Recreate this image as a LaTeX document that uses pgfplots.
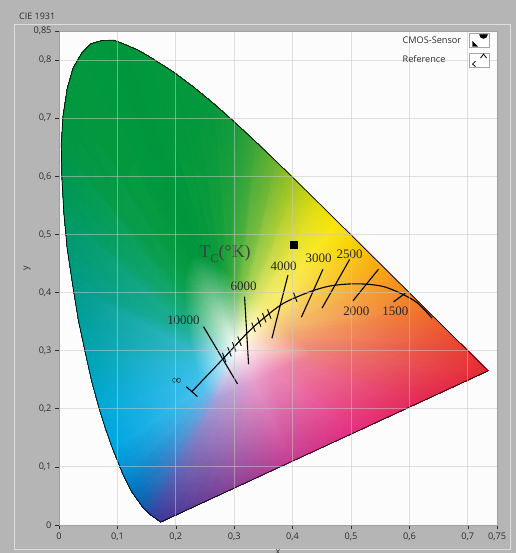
\documentclass[border=0pt]{standalone}
\usepackage{pgfplots}
\pgfplotsset{compat=1.18}
\usepackage{fontspec}
\setmainfont{Open Sans}
\newfontfamily\serifnum{Liberation Serif}
\definecolor{bgc}{RGB}{181,181,181}
\definecolor{panelc}{RGB}{222,222,222}
\definecolor{plotbg}{RGB}{252,252,252}
\definecolor{gridc}{RGB}{200,200,200}
\definecolor{axc}{RGB}{160,160,160}
\definecolor{tickc}{RGB}{45,45,45}
\definecolor{wc}{RGB}{255,255,250}
\definecolor{b1}{RGB}{60,55,150}   \definecolor{r1}{RGB}{160,160,218}
\definecolor{b2}{RGB}{45,70,160}   \definecolor{r2}{RGB}{135,170,228}
\definecolor{b3}{RGB}{20,90,172}   \definecolor{r3}{RGB}{115,180,232}
\definecolor{b4}{RGB}{0,115,190}   \definecolor{r4}{RGB}{95,190,236}
\definecolor{b5}{RGB}{0,140,210}   \definecolor{r5}{RGB}{80,195,238}
\definecolor{b6}{RGB}{0,165,225}   \definecolor{r6}{RGB}{65,192,235}
\definecolor{b7}{RGB}{0,168,215}   \definecolor{r7}{RGB}{55,190,225}
\definecolor{b8}{RGB}{0,162,175}   \definecolor{r8}{RGB}{50,185,200}
\definecolor{b9}{RGB}{0,155,135}   \definecolor{r9}{RGB}{30,175,150}
\definecolor{b10}{RGB}{0,152,95}   \definecolor{r10}{RGB}{20,168,110}
\definecolor{b11}{RGB}{0,150,66}   \definecolor{r11}{RGB}{10,160,80}
\definecolor{b12}{RGB}{0,150,60}   \definecolor{r12}{RGB}{5,155,65}
\definecolor{b13}{RGB}{0,150,60}   \definecolor{r13}{RGB}{0,152,62}
\definecolor{b14}{RGB}{0,150,60}   \definecolor{r14}{RGB}{0,151,60}
\definecolor{b15}{RGB}{0,150,60}   \definecolor{r15}{RGB}{0,152,60}
\definecolor{b16}{RGB}{0,150,60}   \definecolor{r16}{RGB}{5,154,60}
\definecolor{b17}{RGB}{0,150,60}   \definecolor{r17}{RGB}{10,156,60}
\definecolor{b18}{RGB}{0,151,60}   \definecolor{r18}{RGB}{25,160,60}
\definecolor{b19}{RGB}{5,152,60}   \definecolor{r19}{RGB}{45,166,60}
\definecolor{b20}{RGB}{20,155,60}  \definecolor{r20}{RGB}{80,178,62}
\definecolor{b21}{RGB}{60,165,55}  \definecolor{r21}{RGB}{125,194,72}
\definecolor{b22}{RGB}{110,180,45} \definecolor{r22}{RGB}{172,212,90}
\definecolor{b23}{RGB}{170,200,25} \definecolor{r23}{RGB}{212,226,105}
\definecolor{b24}{RGB}{225,220,10} \definecolor{r24}{RGB}{238,234,120}
\definecolor{b25}{RGB}{250,230,0}  \definecolor{r25}{RGB}{248,236,125}
\definecolor{b26}{RGB}{250,205,0}  \definecolor{r26}{RGB}{248,224,125}
\definecolor{b27}{RGB}{248,175,10} \definecolor{r27}{RGB}{246,208,125}
\definecolor{b28}{RGB}{245,150,25} \definecolor{r28}{RGB}{245,192,122}
\definecolor{b29}{RGB}{240,115,40} \definecolor{r29}{RGB}{243,165,115}
\definecolor{b30}{RGB}{233,65,50}  \definecolor{r30}{RGB}{240,140,120}
\definecolor{b31}{RGB}{228,42,50}  \definecolor{r31}{RGB}{238,130,130}
\definecolor{b32}{RGB}{228,40,85}  \definecolor{r32}{RGB}{238,130,160}
\definecolor{b33}{RGB}{228,45,125} \definecolor{r33}{RGB}{236,140,185}
\definecolor{b34}{RGB}{200,60,145} \definecolor{r34}{RGB}{230,158,205}
\definecolor{b35}{RGB}{130,65,150} \definecolor{r35}{RGB}{195,160,212}
\begin{document}
\begin{tikzpicture}[x=1bp,y=1bp]
\useasboundingbox (0,0) rectangle (516,553);
\fill[bgc] (0,0) rectangle (516,553);
\draw[panelc, line width=1bp] (14.5,3.5) rectangle (510.5,528.5);
\node[anchor=west, inner sep=0, font=\fontsize{9}{10}\selectfont, text=tickc] at (19,537) {CIE 1931};
\begin{axis}[
  at={(59bp,28bp)}, anchor=south west,
  scale only axis, width=438bp, height=494bp,
  xmin=0, xmax=0.75, ymin=0, ymax=0.85,
  xtick={0,0.1,0.2,0.3,0.4,0.5,0.6,0.7,0.75},
  ytick={0,0.1,0.2,0.3,0.4,0.5,0.6,0.7,0.8,0.85},
  grid=major,
  grid style={draw=gridc, line width=0.8bp, opacity=0.55},
  axis on top,
  axis background/.style={fill=plotbg},
  axis line style={draw=axc, line width=0.8bp},
  tick pos=left, tick align=outside, major tick length=4bp,
  tick style={draw=tickc, line width=0.6bp},
  tick label style={font=\fontsize{9.2}{10}\selectfont, text=tickc},
  /pgf/number format/use comma,
  /pgf/number format/fixed,
  /pgf/number format/precision=2,
  /pgf/number format/assume math mode=true,
  xlabel={x}, ylabel={y},
  every axis x label/.style={at={(rel axis cs:0.5,-0.060)}, anchor=base, font=\fontsize{9}{10}\selectfont, text=tickc},
  every axis y label/.style={at={(rel axis cs:-0.0731,0.52)}, anchor=center, rotate=90, font=\fontsize{9}{10}\selectfont, text=tickc},
  legend plot pos=right,
  legend cell align=left,
  legend style={at={(rel axis cs:1,1)}, anchor=north east, xshift=-7bp, yshift=-2bp,
    draw=none, fill=none, inner xsep=0pt, inner ysep=0pt,
    font=\fontsize{9.2}{10}\selectfont, text=tickc, row sep=5bp, column sep=6bp},
]
% colour fill of the chromaticity diagram
\addplot[patch, shader=interp, mesh/color input=explicit, point meta=explicit symbolic, forget plot]
table[meta=c] {
x y c
0.305 0.305 color=wc
0.2657 0.2150 color=r1
0.2605 0.2188 color=r2
0.2657 0.2150 color=r1
0.1741 0.0050 color=b1
0.1566 0.0177 color=b2
0.2657 0.2150 color=r1
0.1566 0.0177 color=b2
0.2605 0.2188 color=r2
0.305 0.305 color=wc
0.2605 0.2188 color=r2
0.2567 0.2224 color=r3
0.2605 0.2188 color=r2
0.1566 0.0177 color=b2
0.1440 0.0297 color=b3
0.2605 0.2188 color=r2
0.1440 0.0297 color=b3
0.2567 0.2224 color=r3
0.305 0.305 color=wc
0.2567 0.2224 color=r3
0.2507 0.2308 color=r4
0.2567 0.2224 color=r3
0.1440 0.0297 color=b3
0.1241 0.0578 color=b4
0.2567 0.2224 color=r3
0.1241 0.0578 color=b4
0.2507 0.2308 color=r4
0.305 0.305 color=wc
0.2507 0.2308 color=r4
0.2464 0.2395 color=r5
0.2507 0.2308 color=r4
0.1241 0.0578 color=b4
0.1096 0.0868 color=b5
0.2507 0.2308 color=r4
0.1096 0.0868 color=b5
0.2464 0.2395 color=r5
0.305 0.305 color=wc
0.2464 0.2395 color=r5
0.2409 0.2533 color=r6
0.2464 0.2395 color=r5
0.1096 0.0868 color=b5
0.0913 0.1327 color=b6
0.2464 0.2395 color=r5
0.0913 0.1327 color=b6
0.2409 0.2533 color=r6
0.305 0.305 color=wc
0.2409 0.2533 color=r6
0.2341 0.2737 color=r7
0.2409 0.2533 color=r6
0.0913 0.1327 color=b6
0.0687 0.2007 color=b7
0.2409 0.2533 color=r6
0.0687 0.2007 color=b7
0.2341 0.2737 color=r7
0.305 0.305 color=wc
0.2341 0.2737 color=r7
0.2271 0.3020 color=r8
0.2341 0.2737 color=r7
0.0687 0.2007 color=b7
0.0454 0.2950 color=b8
0.2341 0.2737 color=r7
0.0454 0.2950 color=b8
0.2271 0.3020 color=r8
0.305 0.305 color=wc
0.2271 0.3020 color=r8
0.2206 0.3373 color=r9
0.2271 0.3020 color=r8
0.0454 0.2950 color=b8
0.0235 0.4127 color=b9
0.2271 0.3020 color=r8
0.0235 0.4127 color=b9
0.2206 0.3373 color=r9
0.305 0.305 color=wc
0.2206 0.3373 color=r9
0.2160 0.3750 color=r10
0.2206 0.3373 color=r9
0.0235 0.4127 color=b9
0.0082 0.5384 color=b10
0.2206 0.3373 color=r9
0.0082 0.5384 color=b10
0.2160 0.3750 color=r10
0.305 0.305 color=wc
0.2160 0.3750 color=r10
0.2147 0.4099 color=r11
0.2160 0.3750 color=r10
0.0082 0.5384 color=b10
0.0039 0.6548 color=b11
0.2160 0.3750 color=r10
0.0039 0.6548 color=b11
0.2147 0.4099 color=r11
0.305 0.305 color=wc
0.2147 0.4099 color=r11
0.2177 0.4386 color=r12
0.2147 0.4099 color=r11
0.0039 0.6548 color=b11
0.0139 0.7502 color=b12
0.2147 0.4099 color=r11
0.0139 0.7502 color=b12
0.2177 0.4386 color=r12
0.305 0.305 color=wc
0.2177 0.4386 color=r12
0.2252 0.4571 color=r13
0.2177 0.4386 color=r12
0.0139 0.7502 color=b12
0.0389 0.8120 color=b13
0.2177 0.4386 color=r12
0.0389 0.8120 color=b13
0.2252 0.4571 color=r13
0.305 0.305 color=wc
0.2252 0.4571 color=r13
0.2358 0.4636 color=r14
0.2252 0.4571 color=r13
0.0389 0.8120 color=b13
0.0743 0.8338 color=b14
0.2252 0.4571 color=r13
0.0743 0.8338 color=b14
0.2358 0.4636 color=r14
0.305 0.305 color=wc
0.2358 0.4636 color=r14
0.2478 0.4614 color=r15
0.2358 0.4636 color=r14
0.0743 0.8338 color=b14
0.1142 0.8262 color=b15
0.2358 0.4636 color=r14
0.1142 0.8262 color=b15
0.2478 0.4614 color=r15
0.305 0.305 color=wc
0.2478 0.4614 color=r15
0.2599 0.4553 color=r16
0.2478 0.4614 color=r15
0.1142 0.8262 color=b15
0.1547 0.8059 color=b16
0.2478 0.4614 color=r15
0.1547 0.8059 color=b16
0.2599 0.4553 color=r16
0.305 0.305 color=wc
0.2599 0.4553 color=r16
0.2714 0.4480 color=r17
0.2599 0.4553 color=r16
0.1547 0.8059 color=b16
0.1929 0.7816 color=b17
0.2599 0.4553 color=r16
0.1929 0.7816 color=b17
0.2714 0.4480 color=r17
0.305 0.305 color=wc
0.2714 0.4480 color=r17
0.2824 0.4398 color=r18
0.2714 0.4480 color=r17
0.1929 0.7816 color=b17
0.2296 0.7543 color=b18
0.2714 0.4480 color=r17
0.2296 0.7543 color=b18
0.2824 0.4398 color=r18
0.305 0.305 color=wc
0.2824 0.4398 color=r18
0.2932 0.4308 color=r19
0.2824 0.4398 color=r18
0.2296 0.7543 color=b18
0.2658 0.7243 color=b19
0.2824 0.4398 color=r18
0.2658 0.7243 color=b19
0.2932 0.4308 color=r19
0.305 0.305 color=wc
0.2932 0.4308 color=r19
0.3040 0.4212 color=r20
0.2932 0.4308 color=r19
0.2658 0.7243 color=b19
0.3016 0.6923 color=b20
0.2932 0.4308 color=r19
0.3016 0.6923 color=b20
0.3040 0.4212 color=r20
0.305 0.305 color=wc
0.3040 0.4212 color=r20
0.3147 0.4112 color=r21
0.3040 0.4212 color=r20
0.3016 0.6923 color=b20
0.3373 0.6589 color=b21
0.3040 0.4212 color=r20
0.3373 0.6589 color=b21
0.3147 0.4112 color=r21
0.305 0.305 color=wc
0.3147 0.4112 color=r21
0.3254 0.4009 color=r22
0.3147 0.4112 color=r21
0.3373 0.6589 color=b21
0.3731 0.6245 color=b22
0.3147 0.4112 color=r21
0.3731 0.6245 color=b22
0.3254 0.4009 color=r22
0.305 0.305 color=wc
0.3254 0.4009 color=r22
0.3361 0.3904 color=r23
0.3254 0.4009 color=r22
0.3731 0.6245 color=b22
0.4087 0.5896 color=b23
0.3254 0.4009 color=r22
0.4087 0.5896 color=b23
0.3361 0.3904 color=r23
0.305 0.305 color=wc
0.3361 0.3904 color=r23
0.3467 0.3799 color=r24
0.3361 0.3904 color=r23
0.4087 0.5896 color=b23
0.4441 0.5547 color=b24
0.3361 0.3904 color=r23
0.4441 0.5547 color=b24
0.3467 0.3799 color=r24
0.305 0.305 color=wc
0.3467 0.3799 color=r24
0.3571 0.3696 color=r25
0.3467 0.3799 color=r24
0.4441 0.5547 color=b24
0.4788 0.5202 color=b25
0.3467 0.3799 color=r24
0.4788 0.5202 color=b25
0.3571 0.3696 color=r25
0.305 0.305 color=wc
0.3571 0.3696 color=r25
0.3673 0.3595 color=r26
0.3571 0.3696 color=r25
0.4788 0.5202 color=b25
0.5125 0.4866 color=b26
0.3571 0.3696 color=r25
0.5125 0.4866 color=b26
0.3673 0.3595 color=r26
0.305 0.305 color=wc
0.3673 0.3595 color=r26
0.3769 0.3498 color=r27
0.3673 0.3595 color=r26
0.5125 0.4866 color=b26
0.5448 0.4544 color=b27
0.3673 0.3595 color=r26
0.5448 0.4544 color=b27
0.3769 0.3498 color=r27
0.305 0.305 color=wc
0.3769 0.3498 color=r27
0.3861 0.3408 color=r28
0.3769 0.3498 color=r27
0.5448 0.4544 color=b27
0.5752 0.4242 color=b28
0.3769 0.3498 color=r27
0.5752 0.4242 color=b28
0.3861 0.3408 color=r28
0.305 0.305 color=wc
0.3861 0.3408 color=r28
0.4016 0.3253 color=r29
0.3861 0.3408 color=r28
0.5752 0.4242 color=b28
0.6270 0.3725 color=b29
0.3861 0.3408 color=r28
0.6270 0.3725 color=b29
0.4016 0.3253 color=r29
0.305 0.305 color=wc
0.4016 0.3253 color=r29
0.4210 0.3060 color=r30
0.4016 0.3253 color=r29
0.6270 0.3725 color=b29
0.6915 0.3083 color=b30
0.4016 0.3253 color=r29
0.6915 0.3083 color=b30
0.4210 0.3060 color=r30
0.305 0.305 color=wc
0.4210 0.3060 color=r30
0.4339 0.2931 color=r31
0.4210 0.3060 color=r30
0.6915 0.3083 color=b30
0.7347 0.2653 color=b31
0.4210 0.3060 color=r30
0.7347 0.2653 color=b31
0.4339 0.2931 color=r31
0.305 0.305 color=wc
0.4339 0.2931 color=r31
0.4003 0.2775 color=r32
0.4339 0.2931 color=r31
0.7347 0.2653 color=b31
0.6226 0.2133 color=b32
0.4339 0.2931 color=r31
0.6226 0.2133 color=b32
0.4003 0.2775 color=r32
0.305 0.305 color=wc
0.4003 0.2775 color=r32
0.3666 0.2619 color=r33
0.4003 0.2775 color=r32
0.6226 0.2133 color=b32
0.5104 0.1612 color=b33
0.4003 0.2775 color=r32
0.5104 0.1612 color=b33
0.3666 0.2619 color=r33
0.305 0.305 color=wc
0.3666 0.2619 color=r33
0.3330 0.2463 color=r34
0.3666 0.2619 color=r33
0.5104 0.1612 color=b33
0.3982 0.1092 color=b34
0.3666 0.2619 color=r33
0.3982 0.1092 color=b34
0.3330 0.2463 color=r34
0.305 0.305 color=wc
0.3330 0.2463 color=r34
0.2994 0.2306 color=r35
0.3330 0.2463 color=r34
0.3982 0.1092 color=b34
0.2862 0.0571 color=b35
0.3330 0.2463 color=r34
0.2862 0.0571 color=b35
0.2994 0.2306 color=r35
0.305 0.305 color=wc
0.2994 0.2306 color=r35
0.2657 0.2150 color=r1
0.2994 0.2306 color=r35
0.2862 0.0571 color=b35
0.1741 0.0050 color=b1
0.2994 0.2306 color=r35
0.1741 0.0050 color=b1
0.2657 0.2150 color=r1
0.0913 0.1327 color=b6
0.0795 0.1660 color=b6
0.0687 0.2007 color=b7
0.0687 0.2007 color=b7
0.0560 0.2470 color=b7
0.0454 0.2950 color=b8
0.0454 0.2950 color=b8
0.0330 0.3530 color=b8
0.0235 0.4127 color=b9
0.0235 0.4127 color=b9
0.0140 0.4760 color=b9
0.0082 0.5384 color=b10
0.0082 0.5384 color=b10
0.0050 0.5966 color=b10
0.0039 0.6548 color=b11
0.0039 0.6548 color=b11
0.0069 0.7040 color=b11
0.0139 0.7502 color=b12
0.0139 0.7502 color=b12
0.0240 0.7860 color=b12
0.0389 0.8120 color=b13
0.0389 0.8120 color=b13
0.0545 0.8280 color=b13
0.0743 0.8338 color=b14
0.0743 0.8338 color=b14
0.0945 0.8340 color=b14
0.1142 0.8262 color=b15
0.1142 0.8262 color=b15
0.1345 0.8175 color=b15
0.1547 0.8059 color=b16
};
% outline of spectral locus and purple line
\addplot[black, line width=0.7bp, forget plot] coordinates {
(0.1741,0.0050) (0.1566,0.0177) (0.1440,0.0297) (0.1241,0.0578) (0.1096,0.0868)
(0.0913,0.1327) (0.0795,0.1660) (0.0687,0.2007) (0.0560,0.2470) (0.0454,0.2950)
(0.0330,0.3530) (0.0235,0.4127) (0.0140,0.4760) (0.0082,0.5384) (0.0050,0.5966)
(0.0039,0.6548) (0.0069,0.7040) (0.0139,0.7502) (0.0240,0.7860) (0.0389,0.8120)
(0.0545,0.8280) (0.0743,0.8338) (0.0945,0.8340) (0.1142,0.8262) (0.1345,0.8175)
(0.1547,0.8059) (0.1929,0.7816) (0.2296,0.7543) (0.2658,0.7243) (0.3016,0.6923)
(0.3373,0.6589) (0.3731,0.6245) (0.4087,0.5896) (0.4441,0.5547) (0.4788,0.5202)
(0.5125,0.4866) (0.5448,0.4544) (0.5752,0.4242) (0.6270,0.3725) (0.6915,0.3083)
(0.7347,0.2653) (0.6226,0.2133) (0.5104,0.1612) (0.3982,0.1092) (0.2862,0.0571)
(0.1741,0.0050)
};
% Planckian locus
\addplot[black, line width=1.1bp, smooth, forget plot] coordinates {
(0.2275,0.2295) (0.2817,0.2869) (0.3218,0.3299) (0.3503,0.3557) (0.3846,0.3816)
(0.4303,0.4016) (0.4646,0.4114) (0.4989,0.4148) (0.5275,0.4143) (0.5560,0.4102)
(0.5846,0.3988) (0.6132,0.3826) (0.6389,0.3557)
};
% isotherms
\addplot[black, line width=1.1bp, unbounded coords=jump, forget plot] coordinates {
(0.2474,0.3413) (0.3057,0.2427) (nan,nan)
(0.3177,0.3930) (0.3246,0.2766) (nan,nan)
(0.3920,0.4300) (0.3646,0.3213) (nan,nan)
(0.4520,0.4400) (0.4150,0.3575) (nan,nan)
(0.4977,0.4570) (0.4503,0.3730) (nan,nan)
(0.5470,0.4400) (0.5035,0.3860) (nan,nan)
(0.5930,0.3990) (0.5730,0.3840) (nan,nan)
(0.2180,0.2380) (0.2370,0.2210)
};
% small ticks
\addplot[black, line width=0.9bp, unbounded coords=jump, forget plot] coordinates {
(0.2799,0.2962) (0.2859,0.2802) (nan,nan)
(0.2890,0.3059) (0.2950,0.2899) (nan,nan)
(0.2970,0.3145) (0.3030,0.2985) (nan,nan)
(0.3061,0.3242) (0.3121,0.3082) (nan,nan)
(0.3301,0.3481) (0.3361,0.3321) (nan,nan)
(0.3399,0.3570) (0.3459,0.3410) (nan,nan)
(0.3485,0.3646) (0.3545,0.3486) (nan,nan)
(0.3570,0.3710) (0.3630,0.3550) (nan,nan)
(0.4016,0.3999) (0.4076,0.3839)
};
% labels
\begin{scope}[every node/.style={font=\serifnum\fontsize{13}{15}\selectfont, text=black!85, inner sep=0}]
\node at (axis cs:0.2131,0.3516) {10000};
\node at (axis cs:0.3160,0.4114) {6000};
\node at (axis cs:0.3846,0.4458) {4000};
\node at (axis cs:0.4446,0.4590) {3000};
\node at (axis cs:0.4977,0.4664) {2500};
\node at (axis cs:0.5092,0.3683) {2000};
\node at (axis cs:0.5760,0.3683) {1500};
\node at (axis cs:0.2017,0.2466) {∞};
\end{scope}
\node[font=\serifnum\fontsize{18}{20}\selectfont, text=black!75, inner sep=0] at (axis cs:0.2846,0.4664)
  {T\raisebox{-0.28em}{\fontsize{12}{12}\selectfont C}(°K)};
% measured points
\addplot[only marks, mark=square*, mark size=3.2bp, black,
  legend image code/.code={
    \draw[draw=gray!70, fill=white, line width=0.6bp] (0bp,-7bp) rectangle (20bp,7bp);
    \fill[black] (10bp,6bp) arc[start angle=180, end angle=360, radius=4bp] -- cycle;
    \fill[black] (3bp,-6bp) -- (8bp,-6bp) -- (3bp,-1bp) -- cycle;
  }] coordinates {(0.402,0.482)};
\addlegendentry{CMOS-Sensor}
\addplot[only marks, mark=x, mark size=3.5bp, black, line width=1bp,
  legend image code/.code={
    \draw[draw=gray!70, fill=white, line width=0.6bp] (0bp,-7bp) rectangle (20bp,7bp);
    \draw[black, line width=0.8bp] (11bp,2bp) -- (14bp,6bp) -- (17bp,2bp);
    \draw[black, line width=0.8bp] (6bp,-1bp) -- (3bp,-4bp) -- (6bp,-6.5bp);
  }] coordinates {(0.402,0.482)};
\addlegendentry{Reference}
\end{axis}
\end{tikzpicture}
\end{document}
